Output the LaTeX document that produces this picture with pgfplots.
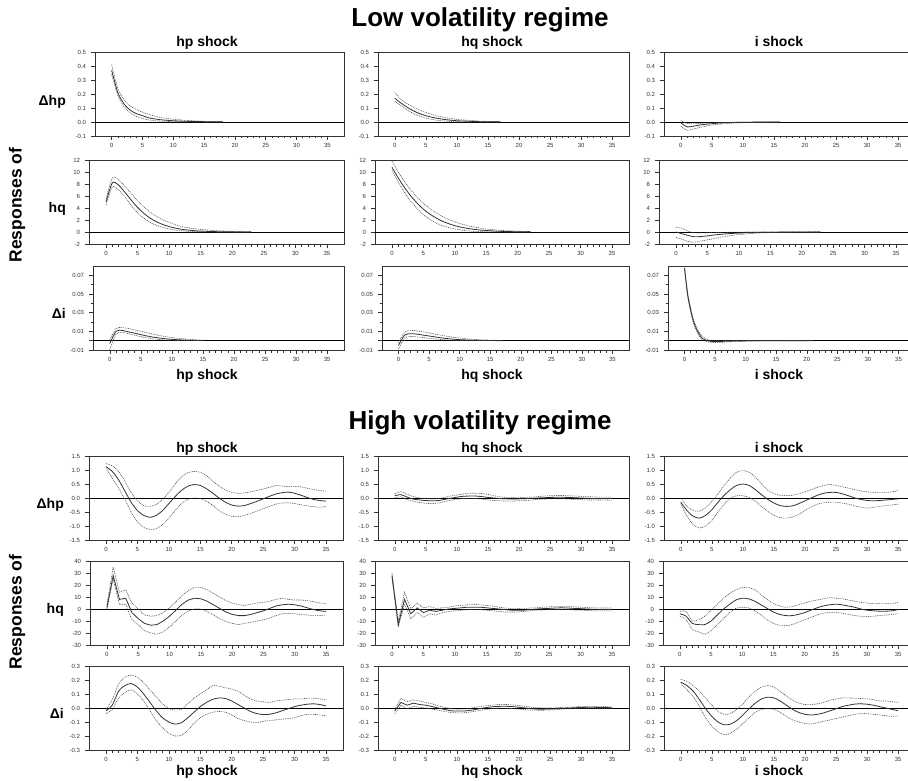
\documentclass[border=0pt]{standalone}
\usepackage{fontspec}
\setmainfont{Liberation Sans}
\usepackage{pgfplots}
\usepackage{pgfplotstable}
\pgfplotsset{compat=1.18}

% ---- low volatility regime: rows = response (dhp, hq, di), cols = shock (hp, hq, i)
\pgfplotstableread{
t lo md hi
0 0.34 0.37 0.41
1 0.19 0.21 0.24
2 0.11 0.13 0.16
3 0.065 0.085 0.115
4 0.04 0.06 0.09
5 0.025 0.045 0.07
6 0.015 0.03 0.055
7 0.01 0.022 0.042
8 0.006 0.016 0.032
9 0.004 0.012 0.025
10 0.002 0.009 0.02
12 0.001 0.005 0.012
14 0.0 0.003 0.007
16 0.0 0.002 0.004
18 0.0 0.001 0.002
}\LAA
\pgfplotstableread{
t lo md hi
0 0.15 0.17 0.21
1 0.115 0.135 0.16
2 0.085 0.105 0.13
3 0.06 0.08 0.105
4 0.042 0.06 0.085
5 0.028 0.045 0.068
6 0.018 0.034 0.054
7 0.011 0.025 0.042
8 0.007 0.018 0.032
9 0.004 0.013 0.025
10 0.002 0.009 0.019
12 0.0 0.005 0.011
14 0.0 0.002 0.006
17 0.0 0.001 0.002
}\LAB
\pgfplotstableread{
t lo md hi
0 -0.03 -0.005 0.01
1 -0.06 -0.035 -0.01
2 -0.05 -0.03 -0.012
3 -0.04 -0.022 -0.01
4 -0.03 -0.016 -0.008
5 -0.022 -0.012 -0.006
6 -0.016 -0.008 -0.004
8 -0.009 -0.004 -0.002
10 -0.005 -0.002 -0.001
12 -0.003 -0.001 0
16 -0.001 0 0
}\LAC
\pgfplotstableread{
t lo md hi
0 4.5 5.0 5.5
1 7.5 8.2 9.0
2 7.0 7.8 8.7
3 5.8 6.6 7.6
4 4.4 5.3 6.4
5 3.2 4.1 5.2
6 2.3 3.1 4.2
7 1.6 2.3 3.3
8 1.1 1.7 2.6
9 0.75 1.25 2.0
10 0.5 0.9 1.6
11 0.32 0.65 1.2
12 0.2 0.45 0.9
13 0.12 0.32 0.7
14 0.07 0.22 0.55
15 0.04 0.15 0.45
17 0.01 0.07 0.25
19 0.0 0.03 0.15
21 0.0 0.01 0.08
23 0.0 0.0 0.05
}\LBA
\pgfplotstableread{
t lo md hi
0 10.3 10.8 11.8
1 8.3 9.0 10.0
2 6.6 7.4 8.4
3 5.1 6.0 7.0
4 3.9 4.8 5.8
5 2.9 3.8 4.8
6 2.1 3.0 3.9
7 1.5 2.35 3.2
8 1.05 1.8 2.6
9 0.75 1.4 2.1
10 0.5 1.05 1.7
11 0.33 0.8 1.35
12 0.2 0.6 1.05
13 0.12 0.45 0.85
14 0.07 0.33 0.65
15 0.04 0.25 0.5
17 0.01 0.12 0.3
19 0.0 0.06 0.18
22 0.0 0.02 0.08
}\LBB
\pgfplotstableread{
t lo md hi
0 -0.9 0.0 0.8
1 -1.2 -0.3 0.6
2 -1.6 -0.6 0.1
3 -1.7 -0.8 -0.15
4 -1.5 -0.75 -0.15
5 -1.3 -0.65 -0.12
6 -1.1 -0.5 -0.1
7 -0.9 -0.4 -0.07
8 -0.7 -0.3 -0.05
10 -0.42 -0.18 -0.02
12 -0.25 -0.1 0
14 -0.13 -0.05 0
18 -0.03 -0.01 0
23 0 0 0
}\LBC
\pgfplotstableread{
t lo md hi
0 -0.01 -0.003 0.001
1 0.007 0.01 0.013
2 0.009 0.011 0.014
3 0.0075 0.0095 0.013
4 0.0058 0.008 0.0115
5 0.0043 0.0065 0.01
6 0.003 0.005 0.0085
7 0.002 0.0038 0.007
8 0.0013 0.0028 0.0055
9 0.0008 0.002 0.0043
10 0.0004 0.0014 0.0033
11 0.0002 0.001 0.0025
13 0.0001 0.0004 0.0013
15 0 0.0001 0.0006
}\LCA
\pgfplotstableread{
t lo md hi
0 -0.009 -0.005 -0.002
1 0.003 0.006 0.009
2 0.0045 0.0075 0.011
3 0.004 0.007 0.0105
4 0.0033 0.006 0.0095
5 0.0025 0.005 0.0083
6 0.0018 0.004 0.007
7 0.0012 0.003 0.0058
8 0.0007 0.0022 0.0046
9 0.0004 0.0016 0.0036
10 0.0002 0.0011 0.0028
12 0 0.0005 0.0015
14 0 0.0002 0.0008
17 0 0 0.0002
}\LCB
\pgfplotstableread{
t lo md hi
0 0.076 0.078 0.08
0.5 0.048 0.05 0.052
1 0.031 0.033 0.035
1.5 0.018 0.02 0.022
2 0.01 0.012 0.014
2.5 0.004 0.006 0.008
3 0.0005 0.002 0.004
4 -0.0015 -0.0005 0.0005
5 -0.002 -0.001 0
6 -0.0018 -0.0008 0
8 -0.001 -0.0004 0
10 -0.0005 -0.0002 0
14 -0.0002 0 0
21 0 0 0
}\LCC

% ---- high volatility regime
\pgfplotstableread{
t lo md hi
0 1.10 1.12 1.23
1 0.70 0.95 1.15
2 0.35 0.65 0.95
3 -0.05 0.25 0.60
4 -0.50 -0.15 0.20
5 -0.85 -0.45 -0.10
6 -1.05 -0.62 -0.27
7 -1.12 -0.69 -0.30
8 -1.10 -0.62 -0.23
9 -0.95 -0.45 -0.05
10 -0.72 -0.20 0.20
11 -0.45 0.05 0.50
12 -0.20 0.27 0.75
13 -0.05 0.42 0.90
14 0.00 0.48 0.95
15 -0.02 0.45 0.92
16 -0.12 0.33 0.80
17 -0.27 0.17 0.60
18 -0.45 0.00 0.42
19 -0.58 -0.15 0.28
20 -0.65 -0.25 0.20
21 -0.67 -0.29 0.17
22 -0.62 -0.27 0.18
23 -0.55 -0.20 0.22
24 -0.47 -0.12 0.27
25 -0.38 -0.03 0.32
26 -0.30 0.06 0.38
27 -0.22 0.14 0.44
28 -0.18 0.19 0.43
29 -0.17 0.21 0.40
30 -0.20 0.17 0.41
31 -0.24 0.10 0.40
32 -0.28 0.02 0.35
33 -0.31 -0.05 0.30
34 -0.33 -0.09 0.27
35 -0.30 -0.11 0.24
}\HAA
\pgfplotstableread{
t lo md hi
0 0.00 0.08 0.15
1 0.04 0.12 0.23
2 -0.06 0.03 0.13
3 -0.12 -0.04 0.05
4 -0.16 -0.07 0.00
5 -0.19 -0.09 -0.02
6 -0.20 -0.10 -0.03
7 -0.18 -0.09 -0.02
8 -0.13 -0.05 0.02
9 -0.08 -0.01 0.07
10 -0.04 0.03 0.11
11 -0.02 0.06 0.14
12 -0.01 0.07 0.17
13 -0.02 0.07 0.17
14 -0.04 0.05 0.16
15 -0.07 0.02 0.13
16 -0.09 0.00 0.08
17 -0.10 -0.02 0.04
18 -0.11 -0.03 0.02
19 -0.11 -0.035 0.01
20 -0.10 -0.03 0.01
21 -0.09 -0.025 0.02
22 -0.07 -0.01 0.03
23 -0.05 0.00 0.05
24 -0.04 0.01 0.07
25 -0.03 0.02 0.08
26 -0.03 0.025 0.09
27 -0.03 0.025 0.09
28 -0.04 0.02 0.08
29 -0.05 0.01 0.07
30 -0.06 0.00 0.06
31 -0.07 -0.01 0.05
32 -0.07 -0.015 0.04
33 -0.07 -0.02 0.03
34 -0.07 -0.02 0.03
35 -0.08 -0.02 0.03
}\HAB
\pgfplotstableread{
t lo md hi
0 -0.20 -0.15 0.00
1 -0.65 -0.45 -0.30
2 -0.95 -0.65 -0.45
3 -1.07 -0.72 -0.47
4 -1.00 -0.62 -0.35
5 -0.80 -0.42 -0.12
6 -0.50 -0.15 0.15
7 -0.22 0.10 0.45
8 0.00 0.30 0.72
9 0.08 0.45 0.92
10 0.08 0.50 0.98
11 0.02 0.45 0.92
12 -0.12 0.30 0.75
13 -0.30 0.12 0.50
14 -0.48 -0.05 0.28
15 -0.62 -0.18 0.15
16 -0.70 -0.27 0.10
17 -0.72 -0.30 0.09
18 -0.68 -0.28 0.10
19 -0.58 -0.20 0.15
20 -0.45 -0.10 0.22
21 -0.32 0.00 0.30
22 -0.22 0.10 0.38
23 -0.17 0.17 0.45
24 -0.15 0.20 0.48
25 -0.15 0.20 0.45
26 -0.18 0.15 0.40
27 -0.22 0.08 0.35
28 -0.28 0.00 0.30
29 -0.33 -0.05 0.25
30 -0.36 -0.09 0.22
31 -0.33 -0.10 0.20
32 -0.30 -0.09 0.20
33 -0.27 -0.07 0.20
34 -0.25 -0.05 0.22
35 -0.22 -0.03 0.27
}\HAC
\pgfplotstableread{
t lo md hi
0 0 1 3
1 25 28 35
2 4 8 14
3 4 9 16
4 -9 -3 5
5 -13 -8 0
6 -18 -12 -5
7 -20 -13.5 -6
8 -21 -13 -5.5
9 -19 -10 -3
10 -15 -6 1
11 -10 -1 6
12 -5 4 11
13 -1.5 7.5 15.5
14 0 9 18
15 0 8.5 18
16 -2 6.5 16
17 -5 3.5 13
18 -8 0.5 10
19 -10.5 -2.5 7
20 -12 -4.5 5
21 -13 -5.5 3.5
22 -12 -5.5 3
23 -11 -4.5 4
24 -10 -3 5
25 -9 -1.5 5.5
26 -7.5 0.5 6.5
27 -5.5 2.5 8
28 -4 3.5 9
29 -3.5 4 8
30 -4 3.5 7.5
31 -4.5 2.5 7.5
32 -5 1 7
33 -5.5 -0.5 6
34 -5.5 -1.5 5
35 -5 -2 4.5
}\HBA
\pgfplotstableread{
t lo md hi
0 26 28 30
1 -15 -13 -10
2 4 8 14
3 -8 -4 0
4 -3 1 5
5 -7 -3 1
6 -4 -1 2
7 -5 -2 0.5
8 -3 -1 1
9 -2 0 1.5
10 -1.5 0.5 2.5
11 -1 1 3
12 -0.5 1.5 3.5
13 -0.5 1.5 4
14 -0.5 1.5 3.5
15 -1 1 3
16 -1.5 0.5 2.5
17 -2 0 1.5
18 -2.5 -0.5 0.8
19 -2.5 -1 0.5
20 -2.5 -1 0.5
21 -2 -1 0.5
22 -1.5 -0.5 0.8
23 -1 0 1
24 -0.8 0.3 1.5
25 -0.5 0.5 1.8
26 -0.5 0.8 2
27 -0.5 1 2
28 -0.5 0.8 2
29 -0.8 0.5 1.8
30 -1 0.3 1.5
31 -1.2 0 1.2
32 -1.5 -0.2 1
33 -1.5 -0.3 1
34 -1.5 -0.3 1
35 -1.5 -0.3 1
}\HBB
\pgfplotstableread{
t lo md hi
0 -6 -4 -2
1 -9 -6 -2
2 -17 -12 -10
3 -19 -13 -9
4 -21 -13 -6
5 -18 -10 -1
6 -13 -5 4
7 -8 0 9
8 -3 4 13
9 0.5 7.5 16
10 1.5 9 18
11 1 8.5 18
12 -1.5 6.5 16
13 -5 3.5 12
14 -9 0.5 8
15 -12 -2.5 4.5
16 -13.5 -4.5 2.5
17 -14 -5.5 1.5
18 -13 -5.5 2
19 -11 -4.5 3.5
20 -9 -3 5
21 -7 -1 6.5
22 -5 1 7.5
23 -3.5 2.5 8.5
24 -3 3.5 9.5
25 -3 4 9
26 -3.5 3.5 8.5
27 -4.5 2.5 7.5
28 -5.5 1.5 6.5
29 -6 0 5.5
30 -6.5 -1 5
31 -6 -1.5 4.5
32 -5.5 -1.8 4.5
33 -5 -1.8 4.5
34 -4.5 -1.5 4.5
35 -4 -0.5 5.5
}\HBC
\pgfplotstableread{
t lo md hi
0 -0.04 -0.02 -0.01
1 -0.01 0.02 0.06
2 0.07 0.12 0.17
3 0.11 0.16 0.22
4 0.13 0.175 0.235
5 0.10 0.15 0.22
6 0.05 0.10 0.18
7 -0.02 0.04 0.13
8 -0.09 -0.02 0.08
9 -0.14 -0.07 0.03
10 -0.18 -0.10 -0.005
11 -0.20 -0.115 -0.015
12 -0.195 -0.105 -0.01
13 -0.16 -0.07 0.03
14 -0.11 -0.03 0.07
15 -0.07 0.01 0.10
16 -0.045 0.04 0.13
17 -0.03 0.062 0.16
18 -0.025 0.072 0.155
19 -0.03 0.068 0.145
20 -0.05 0.05 0.135
21 -0.075 0.025 0.12
22 -0.09 0.00 0.09
23 -0.10 -0.025 0.065
24 -0.105 -0.04 0.05
25 -0.095 -0.047 0.045
26 -0.09 -0.045 0.04
27 -0.085 -0.035 0.05
28 -0.08 -0.02 0.055
29 -0.075 -0.005 0.06
30 -0.07 0.01 0.065
31 -0.055 0.02 0.065
32 -0.045 0.027 0.07
33 -0.045 0.03 0.07
34 -0.05 0.025 0.065
35 -0.055 0.015 0.06
}\HCA
\pgfplotstableread{
t lo md hi
0 -0.04 -0.02 -0.01
1 0.02 0.04 0.07
2 -0.005 0.02 0.045
3 0.012 0.035 0.058
4 0.005 0.025 0.05
5 0.0 0.02 0.04
6 -0.008 0.01 0.03
7 -0.015 0.0 0.015
8 -0.025 -0.01 0.005
9 -0.032 -0.02 -0.005
10 -0.035 -0.022 -0.008
11 -0.035 -0.022 -0.008
12 -0.03 -0.018 -0.005
13 -0.022 -0.01 0.005
14 -0.015 -0.002 0.012
15 -0.008 0.005 0.018
16 -0.003 0.01 0.022
17 0.0 0.012 0.025
18 -0.002 0.012 0.025
19 -0.004 0.01 0.022
20 -0.008 0.005 0.018
21 -0.012 0.0 0.012
22 -0.015 -0.005 0.005
23 -0.016 -0.008 0.002
24 -0.016 -0.008 0.0
25 -0.014 -0.007 0.0
26 -0.012 -0.005 0.002
27 -0.008 -0.002 0.004
28 -0.006 0.0 0.006
29 -0.004 0.002 0.008
30 -0.002 0.004 0.01
31 -0.001 0.005 0.01
32 -0.001 0.005 0.01
33 -0.002 0.004 0.01
34 -0.002 0.003 0.01
35 -0.003 0.002 0.008
}\HCB
\pgfplotstableread{
t lo md hi
0 0.175 0.185 0.205
1 0.13 0.16 0.19
2 0.08 0.12 0.16
3 0.01 0.06 0.12
4 -0.07 -0.005 0.07
5 -0.13 -0.06 0.02
6 -0.17 -0.10 -0.025
7 -0.19 -0.12 -0.045
8 -0.18 -0.115 -0.04
9 -0.15 -0.09 -0.01
10 -0.11 -0.05 0.03
11 -0.07 -0.005 0.08
12 -0.03 0.035 0.12
13 -0.01 0.065 0.15
14 -0.005 0.077 0.16
15 -0.01 0.072 0.15
16 -0.03 0.05 0.12
17 -0.06 0.02 0.085
18 -0.085 -0.01 0.055
19 -0.10 -0.032 0.035
20 -0.11 -0.045 0.025
21 -0.115 -0.05 0.025
22 -0.105 -0.045 0.03
23 -0.095 -0.035 0.04
24 -0.085 -0.02 0.055
25 -0.075 -0.005 0.065
26 -0.065 0.01 0.072
27 -0.055 0.02 0.072
28 -0.045 0.028 0.07
29 -0.04 0.03 0.068
30 -0.04 0.027 0.065
31 -0.045 0.02 0.06
32 -0.05 0.01 0.05
33 -0.055 0.0 0.05
34 -0.06 -0.01 0.045
35 -0.055 -0.02 0.04
}\HCC

\pgfplotsset{
  irf/.style={
    scale only axis, height=84pt, anchor=north west,
    xmin=-2.7, xmax=37.7, xtick={0,5,...,35}, minor x tick num=4,
    tick align=outside, xtick pos=bottom, ytick pos=left,
    major tick length=4pt, minor tick length=2.5pt,
    axis line style={black!80, line width=0.7pt},
    tick style={black!80, line width=0.5pt},
    ticklabel style={font=\fontsize{6}{7}\selectfont, text=black!80},
    yticklabel style={xshift=-1.5pt},
    /pgf/number format/assume math mode=true,
    scaled y ticks=false,
    extra y ticks={0}, extra y tick labels={},
    extra y tick style={grid=major, major grid style={black, line width=0.6pt}},
    every axis plot/.append style={smooth, tension=0.45},
  },
  dec1/.style={yticklabel style={/pgf/number format/.cd, fixed, fixed zerofill, precision=1, /tikz/.cd}},
  dec2/.style={yticklabel style={/pgf/number format/.cd, fixed, fixed zerofill, precision=2, /tikz/.cd}},
  rA/.style={ymin=-0.1, ymax=0.5, ytick={-0.1,0,0.1,0.2,0.3,0.4,0.5}, dec1},
  rB/.style={ymin=-2, ymax=12, ytick={-2,0,2,4,6,8,10,12}},
  rC/.style={ymin=-0.01, ymax=0.08, ytick={-0.01,0.01,0.03,0.05,0.07}, minor ytick={0,0.02,0.04,0.06}, dec2},
  hA/.style={ymin=-1.5, ymax=1.5, ytick={-1.5,-1,-0.5,0,0.5,1,1.5}, dec1},
  hB/.style={ymin=-30, ymax=40, ytick={-30,-20,-10,0,10,20,30,40}},
  hC/.style={ymin=-0.3, ymax=0.3, ytick={-0.3,-0.2,-0.1,0,0.1,0.2,0.3}, dec1},
  jag/.style={every axis plot/.append style={sharp plot}},
  band/.style={black!70, line width=0.6pt, dash pattern=on 0.9pt off 0.9pt},
  resp/.style={black!80, line width=0.8pt},
}
\tikzset{
  ttl/.style={font=\fontsize{26}{30}\selectfont\bfseries, inner sep=0pt, anchor=base},
  hdr/.style={font=\fontsize{14}{16}\selectfont\bfseries, inner sep=0pt, anchor=base},
  rlab/.style={font=\fontsize{14}{16}\selectfont\bfseries, inner sep=0pt, anchor=base east},
  side/.style={font=\fontsize{17.5}{20}\selectfont\bfseries, inner sep=0pt, rotate=90},
}

% x (left), y (top, measured downwards), width, row style, table
\newcommand{\irf}[5]{%
  \begin{axis}[irf, #4, at={(#1pt,-#2pt)}, width=#3pt]
    \addplot[band] table[x=t, y=lo] {#5};
    \addplot[band] table[x=t, y=hi] {#5};
    \addplot[resp] table[x=t, y=md] {#5};
  \end{axis}}

\begin{document}
\begin{tikzpicture}
\useasboundingbox (0pt,0pt) rectangle (908pt,-781pt);

% titles and labels (y given as baseline, measured downwards)
\node[ttl] at (480pt,-27pt) {Low volatility regime};
\node[ttl] at (480pt,-429pt) {High volatility regime};
\foreach \yy in {47,379,452,775} {
  \node[hdr] at (207pt,-\yy pt) {hp shock};
  \node[hdr] at (492pt,-\yy pt) {hq shock};
  \node[hdr] at (779pt,-\yy pt) {i shock};
}
\node[side] at (17pt,-205pt) {Responses of};
\node[side] at (17pt,-612pt) {Responses of};
\node[rlab] at (66pt,-106pt) {Δhp};
\node[rlab] at (66pt,-212pt) {hq};
\node[rlab] at (66pt,-318pt) {Δi};
\node[rlab] at (64pt,-508pt) {Δhp};
\node[rlab] at (64pt,-613pt) {hq};
\node[rlab] at (64pt,-718pt) {Δi};

% low volatility regime
\irf{95}{52}{249}{rA}{\LAA}
\irf{378}{52}{251}{rA}{\LAB}
\irf{664}{52}{251}{rA}{\LAC}
\irf{89}{160}{255}{rB}{\LBA}
\irf{375}{160}{254}{rB}{\LBB}
\irf{659}{160}{254}{rB}{\LBC}
\irf{93}{266}{251}{rC}{\LCA}
\irf{382}{266}{247}{rC}{\LCB}
\irf{668}{266}{247}{rC}{\LCC}

% high volatility regime
\irf{89}{456}{254}{hA}{\HAA}
\irf{378}{456}{251}{hA}{\HAB}
\irf{664}{456}{251}{hA}{\HAC}
\irf{90}{561}{253}{hB,jag}{\HBA}
\irf{375}{561}{254}{hB,jag}{\HBB}
\irf{663}{561}{252}{hB}{\HBC}
\irf{89}{666}{254}{hC}{\HCA}
\irf{378}{666}{251}{hC,jag}{\HCB}
\irf{664}{666}{251}{hC}{\HCC}
\end{tikzpicture}
\end{document}
